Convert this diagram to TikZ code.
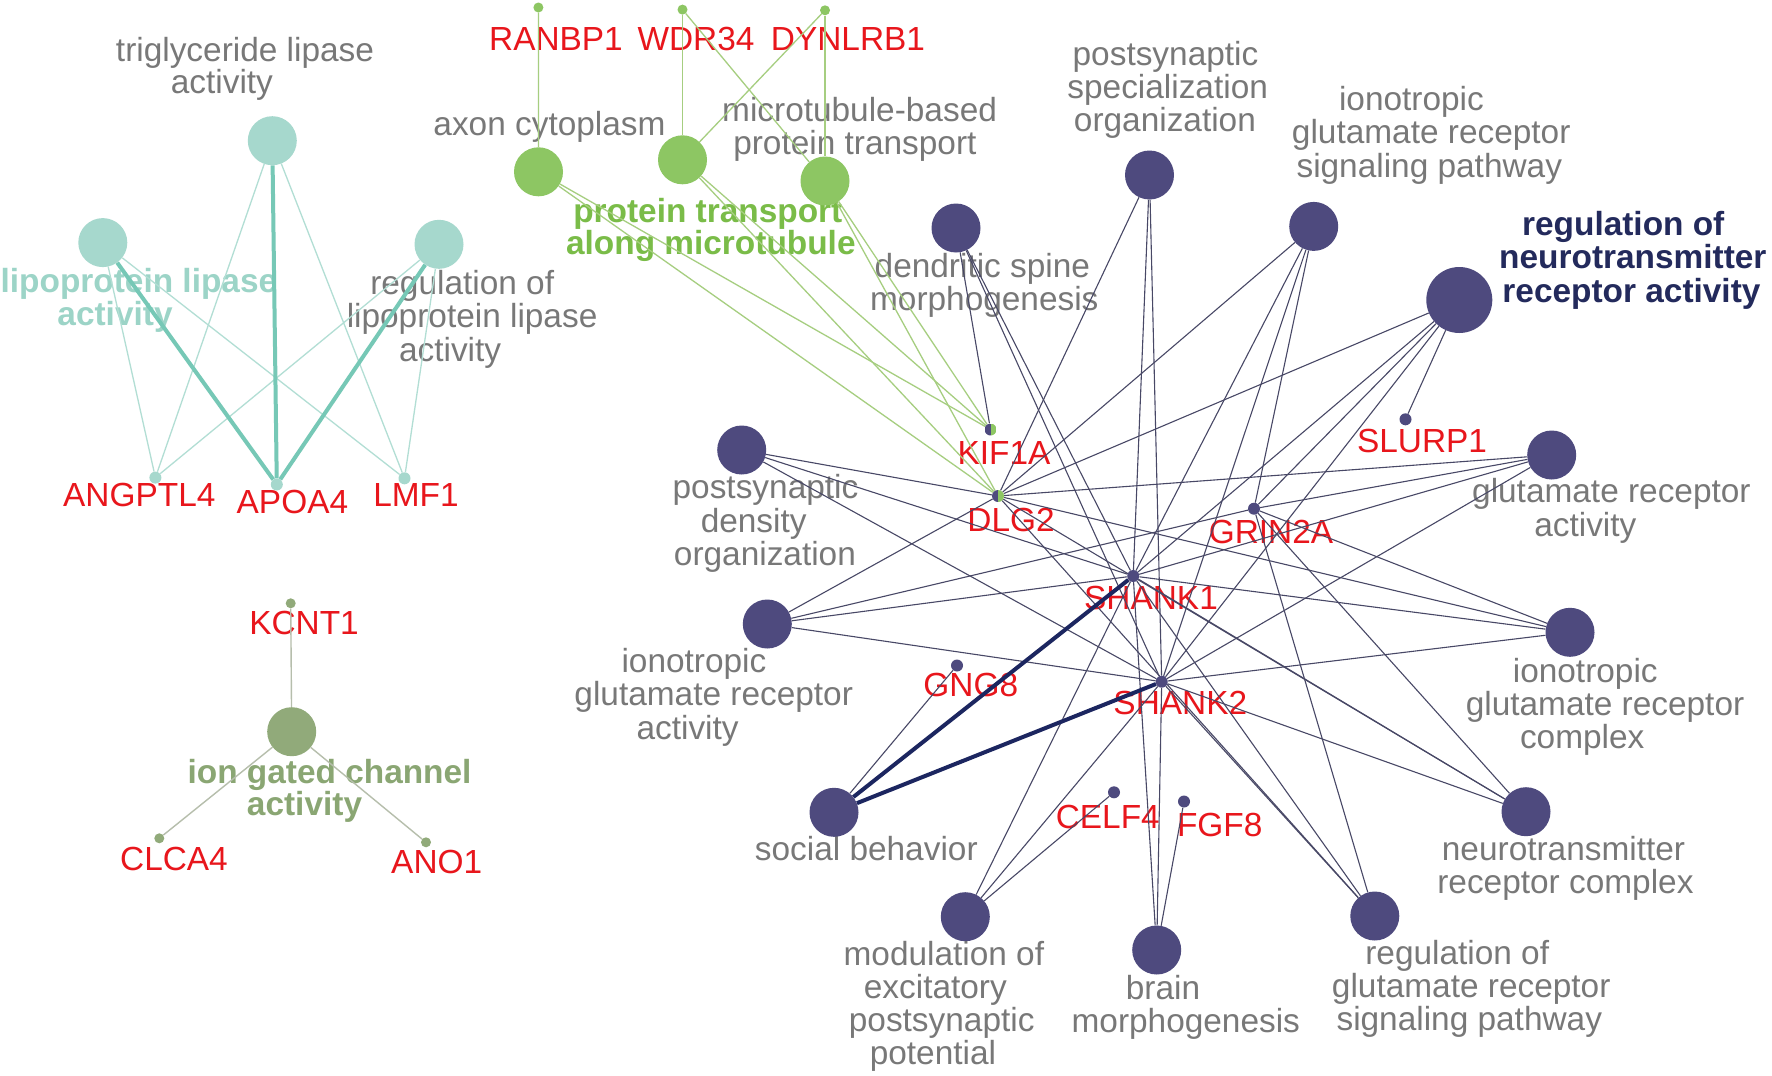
\documentclass[tikz,border=0pt]{standalone}
\usepackage{fontspec}
\setmainfont{Liberation Sans}
\pgfdeclarelayer{back}
\pgfdeclarelayer{labels}
\pgfdeclarelayer{edges}
\pgfsetlayers{back,labels,edges,main}
\definecolor{navy}{RGB}{78,74,126}
\definecolor{navytext}{RGB}{35,42,92}
\definecolor{navyedge}{RGB}{72,72,102}
\definecolor{thickedge}{RGB}{28,38,96}
\definecolor{graytext}{RGB}{120,120,120}
\definecolor{genered}{RGB}{232,22,28}
\definecolor{turq}{RGB}{166,216,205}
\definecolor{turqtext}{RGB}{156,212,199}
\definecolor{turqthin}{RGB}{178,222,212}
\definecolor{turqthick}{RGB}{118,200,182}
\definecolor{grn}{RGB}{141,198,99}
\definecolor{grntext}{RGB}{122,188,72}
\definecolor{grnedge}{RGB}{166,206,128}
\definecolor{olive}{RGB}{145,170,122}
\definecolor{olivetext}{RGB}{138,166,115}
\definecolor{oliveedge}{RGB}{182,190,172}
\newcommand\Lline[1]{\setbox0=\hbox{#1}\hbox to 0pt{\hskip-0.352\wd0\box0\hss}}
\newcommand\golab[6]{%
  \foreach \t [count=\i from 0] in {#6}{%
    \node[#4] (#1\i) at (#2,{#3+\i*#5}) {\Lline{\t}};}}
\tikzset{
  lbl/.style={font=\fontsize{33.4}{31.5}\selectfont, inner sep=0pt, anchor=base},
  glbl/.style={lbl, text=graytext},
  rlbl/.style={lbl, text=genered},
  blbl/.style={lbl, font=\fontsize{33.4}{31.5}\selectfont\bfseries},
  goN/.style={circle, inner sep=0pt, minimum size=49pt, draw=none},
  geneN/.style={circle, inner sep=0pt, minimum size=12pt, draw=none},
  smallN/.style={circle, inner sep=0pt, minimum size=10pt, draw=none},
  splitdot/.style={geneN, path picture={
    \fill[navy] (path picture bounding box.north west) rectangle (path picture bounding box.south);
    \fill[grn] (path picture bounding box.north) rectangle (path picture bounding box.south east);}},
  navyE/.style={draw=navyedge, line width=1.1pt},
  thickE/.style={draw=thickedge, line width=4pt},
  turqE/.style={draw=turqthin, line width=1.3pt},
  turqT/.style={draw=turqthick, line width=4pt},
  grnE/.style={draw=grnedge, line width=1.3pt},
  oliveE/.style={draw=oliveedge, line width=1.4pt},
}
\begin{document}
\begin{tikzpicture}[x=1pt, y=-1pt]
\begin{pgfonlayer}{back}
\fill[white] (0,0) rectangle (1772,1076);
\end{pgfonlayer}
\useasboundingbox (0,0) rectangle (1772,1076);

% ---------- nodes ----------
% turquoise cluster
\node[goN, fill=turq] (tg) at (272.3,140.7) {};
\node[goN, fill=turq] (lpl) at (102.8,242.6) {};
\node[goN, fill=turq] (rlpl) at (439,244.3) {};
\node[geneN, fill=turq] (angptl4) at (155.4,477.6) {};
\node[geneN, fill=turq] (apoa4) at (276.8,484.5) {};
\node[geneN, fill=turq] (lmf1) at (404.5,478.3) {};
% olive cluster
\node[goN, fill=olive] (igca) at (291.7,731.7) {};
\node[smallN, fill=olive] (kcnt1) at (290.7,603.3) {};
\node[smallN, fill=olive] (clca4) at (159.3,838.3) {};
\node[smallN, fill=olive] (ano1) at (426,842.3) {};
% green cluster
\node[goN, fill=grn] (axon) at (538.5,171.8) {};
\node[goN, fill=grn] (ptm) at (682.5,159.8) {};
\node[goN, fill=grn] (mtb) at (825,181) {};
\node[smallN, fill=grn] (ranbp1) at (538.4,7.5) {};
\node[smallN, fill=grn] (wdr34) at (682.5,9.6) {};
\node[smallN, fill=grn] (dynlrb1) at (825,10.3) {};
% navy cluster
\node[goN, fill=navy] (dsm) at (956,228) {};
\node[goN, fill=navy] (pso) at (1149.5,175) {};
\node[goN, fill=navy] (igs) at (1313.7,226.4) {};
\node[goN, fill=navy, minimum size=66pt] (rnt) at (1459.3,300) {};
\node[goN, fill=navy] (gra) at (1551.7,455) {};
\node[goN, fill=navy] (igc) at (1570,632.3) {};
\node[goN, fill=navy] (nrc) at (1526,811.7) {};
\node[goN, fill=navy] (rgs) at (1374.8,916) {};
\node[goN, fill=navy] (bm) at (1156.7,950) {};
\node[goN, fill=navy] (mep) at (965.3,916.7) {};
\node[goN, fill=navy] (sb) at (834,812.3) {};
\node[goN, fill=navy] (iga) at (767.3,624) {};
\node[goN, fill=navy] (pdo) at (741.7,450) {};
\node[splitdot] (kif1a) at (990.5,429.5) {};
\node[splitdot] (dlg2) at (998,496) {};
\node[geneN, fill=navy] (slurp1) at (1405.5,419.3) {};
\node[geneN, fill=navy] (grin2a) at (1254,508.7) {};
\node[geneN, fill=navy] (shank1) at (1133.2,576) {};
\node[geneN, fill=navy] (shank2) at (1161.7,681.7) {};
\node[geneN, fill=navy] (gng8) at (957,665.5) {};
\node[geneN, fill=navy] (celf4) at (1114,792.3) {};
\node[geneN, fill=navy] (fgf8) at (1184,801.5) {};

% ---------- edges ----------
\begin{pgfonlayer}{edges}
\foreach \a/\b in {tg/angptl4, tg/lmf1, lpl/angptl4, lpl/lmf1, rlpl/angptl4, rlpl/lmf1}
  \draw[turqE] (\a) -- (\b);
\foreach \a in {tg, lpl, rlpl}
  \draw[turqT] (\a) -- (apoa4);
\foreach \b in {kcnt1, clca4, ano1}
  \draw[oliveE] (igca) -- (\b);
\foreach \a/\b in {ranbp1/axon, wdr34/ptm, wdr34/mtb, dynlrb1/ptm, dynlrb1/mtb,
  axon/kif1a, axon/dlg2, ptm/kif1a, ptm/dlg2, mtb/kif1a, mtb/dlg2}
  \draw[grnE] (\a) -- (\b);
\foreach \a/\b in {dsm/kif1a, dsm/shank1, dsm/shank2,
  pso/dlg2, pso/shank1, pso/shank2,
  igs/dlg2, igs/shank1, igs/shank2, igs/grin2a,
  rnt/dlg2, rnt/shank1, rnt/shank2, rnt/grin2a, rnt/slurp1,
  gra/dlg2, gra/grin2a, gra/shank1, gra/shank2,
  igc/dlg2, igc/shank1, igc/shank2, igc/grin2a,
  nrc/dlg2, nrc/shank1, nrc/shank2, nrc/grin2a,
  rgs/dlg2, rgs/shank1, rgs/shank2, rgs/grin2a,
  bm/shank1, bm/shank2, bm/fgf8,
  mep/shank1, mep/shank2, mep/celf4,
  sb/gng8,
  pdo/dlg2, pdo/shank1, pdo/shank2,
  iga/dlg2, iga/grin2a, iga/shank1, iga/shank2}
  \draw[navyE] (\a) -- (\b);
\draw[thickE] (sb) -- (shank1);
\draw[thickE] (sb) -- (shank2);
\end{pgfonlayer}

% ---------- labels ----------
\begin{pgfonlayer}{labels}
% gene labels
\node[rlbl] (tANGPTL4) at (139.3,506) {ANGPTL4};
\node[rlbl] (tAPOA4) at (292.4,513) {APOA4};
\node[rlbl] (tLMF1) at (416,506) {LMF1};
\node[rlbl] (tKCNT1) at (304,634) {KCNT1};
\node[rlbl] (tCLCA4) at (174,870) {CLCA4};
\node[rlbl] (tANO1) at (436.7,873.3) {ANO1};
\node[rlbl] (tRANBP1) at (556,50.8) {RANBP1};
\node[rlbl] (tWDR34) at (696,50.8) {WDR34};
\node[rlbl] (tDYNLRB1) at (848,50.8) {DYNLRB1};
\node[rlbl] (tKIF1A) at (1004,464.5) {KIF1A};
\node[rlbl] (tDLG2) at (1011,531) {DLG2};
\node[rlbl] (tSLURP1) at (1422,452.5) {SLURP1};
\node[rlbl] (tGRIN2A) at (1271,543.5) {GRIN2A};
\node[rlbl] (tSHANK1) at (1151,609.5) {SHANK1};
\node[rlbl] (tSHANK2) at (1180.3,714) {SHANK2};
\node[rlbl] (tGNG8) at (970.8,696.7) {GNG8};
\node[rlbl] (tCELF4) at (1107.8,828.3) {CELF4};
\node[rlbl] (tFGF8) at (1219.7,836.7) {FGF8};
% GO term labels
\node[glbl] (taxon) at (549.5,135.6) {axon cytoplasm};
\node[glbl] (tsb) at (866.3,860) {social behavior};
\golab{ttg}{206.8}{61}{glbl}{32}{triglyceride lipase, activity}
\golab{trlpl}{435}{294.4}{glbl}{33.5}{regulation of, lipoprotein lipase, activity}
\golab{tmtb}{818.9}{121.5}{glbl}{33}{microtubule-based, protein transport}
\golab{tdsm}{950.5}{277.5}{glbl}{33}{dendritic spine, morphogenesis}
\golab{tpso}{1138}{65}{glbl}{33}{postsynaptic, specialization, organization}
\golab{tigs}{1390}{110}{glbl}{33.5}{ionotropic, glutamate receptor, signaling pathway}
\golab{tgra}{1570.2}{502.5}{glbl}{33.5}{glutamate receptor, activity}
\golab{tigc}{1563.8}{682}{glbl}{33.3}{ionotropic, glutamate receptor, complex}
\golab{tnrc}{1527.5}{860}{glbl}{33}{neurotransmitter, receptor complex}
\golab{trgs}{1430}{964}{glbl}{33.3}{regulation of, glutamate receptor, signaling pathway}
\golab{tbm}{1152}{999}{glbl}{33}{brain, morphogenesis}
\golab{tmep}{914.2}{965}{glbl}{33.2}{modulation of, excitatory, postsynaptic, potential}
\golab{tpdo}{738}{498.5}{glbl}{33.5}{postsynaptic, density, organization}
\golab{tiga}{672.5}{672}{glbl}{33.5}{ionotropic, glutamate receptor, activity}
% bold cluster labels
\golab{tlpl}{98}{292}{blbl, text=turqtext}{33}{lipoprotein lipase, activity}
\golab{tptm}{668}{222.5}{blbl, text=grntext}{32}{protein transport, along microtubule}
\golab{trnt}{1593.3}{235}{blbl, text=navytext}{33.5}{regulation of, neurotransmitter, receptor activity}
\golab{tigca}{287.5}{783.3}{blbl, text=olivetext}{32.5}{ion gated channel, activity}
\end{pgfonlayer}
\end{tikzpicture}
\end{document}
